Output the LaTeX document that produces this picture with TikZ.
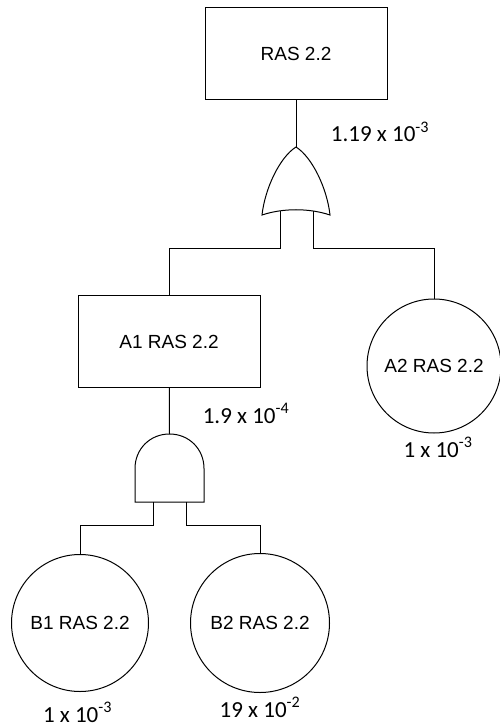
\documentclass[tikz,border=0pt]{standalone}
\usepackage{fontspec}
\setmainfont{Liberation Sans}
\newfontfamily\probfont{Carlito}
\usepackage{tikz}
\usetikzlibrary{positioning}

\begin{document}
\begin{tikzpicture}[
  x=1pt, y=-1pt,
  line width=1pt,
  event/.style={draw, rectangle, minimum width=182pt, minimum height=92pt, inner sep=0pt, font=\fontsize{19}{22}\selectfont},
  basic/.style={draw, circle, minimum size=137pt, inner sep=0pt, font=\fontsize{19}{22}\selectfont},
  prob/.style={anchor=base, inner sep=0pt, font=\probfont\fontsize{23}{27}\selectfont}
]
\useasboundingbox (0,0) rectangle (499,727);

% Top event
\node[event] (top) at (296,54) {RAS 2.2};
\node[prob] (ptop) at (380,142) {1.19 x 10\textsuperscript{-3}};

% OR gate
\coordinate (ortop) at (296,147);
\coordinate (orL) at (280,211);
\coordinate (orR) at (313,211);
\draw (ortop) .. controls (280,157) and (265,188) .. (262,215)
  .. controls (283,208) and (309,208) .. (330,215)
  .. controls (327,188) and (312,157) .. (ortop);
\draw (top) -- (ortop);

% Intermediate and basic events
\node[event] (a1) at (169,341.5) {A1 RAS 2.2};
\node[prob] (pa1) at (246,423) {1.9 x 10\textsuperscript{-4}};
\node[basic, minimum size=134pt] (a2) at (434,366) {A2 RAS 2.2};
\node[prob] (pa2) at (438,457) {1 x 10\textsuperscript{-3}};
\draw (orL) -- ++(0,37) -| (a1.north);
\draw (orR) -- ++(0,37) -| (a2.north);

% AND gate
\coordinate (andtop) at (169.5,434);
\coordinate (andL) at (153,502);
\coordinate (andR) at (186,502);
\draw (135,502) -- (135,468.5) .. controls (135,449) and (150,434) .. (andtop)
  .. controls (189,434) and (204,449) .. (204,468.5) -- (204,502) -- cycle;
\draw (a1) -- (andtop);

% Bottom basic events
\node[basic] (b1) at (80,623) {B1 RAS 2.2};
\node[prob] (pb1) at (77.5,722) {1 x 10\textsuperscript{-3}};
\node[basic, minimum size=139pt] (b2) at (260,623) {B2 RAS 2.2};
\node[prob] (pb2) at (260,717) {19 x 10\textsuperscript{-2}};
\draw (andL) -- ++(0,23) -| (b1.north);
\draw (andR) -- ++(0,23) -| (b2.north);

\end{tikzpicture}
\end{document}
